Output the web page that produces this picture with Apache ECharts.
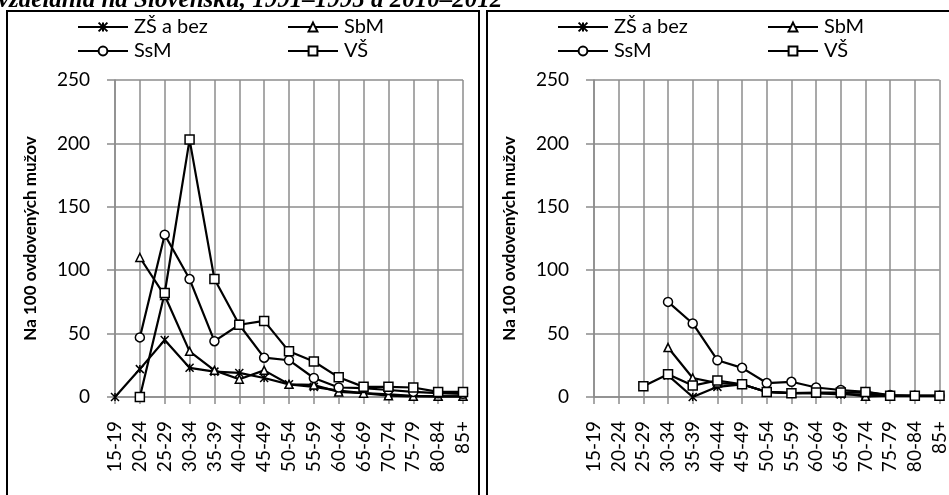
<!DOCTYPE html>
<html>
<head>
<meta charset="utf-8">
<script src="https://cdn.jsdelivr.net/npm/echarts@6/dist/echarts.min.js"></script>
<style>html,body{margin:0;padding:0;background:#fff}#c{width:949px;height:495px}</style>
</head>
<body>
<div id="c"></div>
<script>
const categories = ['15-19','20-24','25-29','30-34','35-39','40-44','45-49','50-54','55-59','60-64','65-69','70-74','75-79','80-84','85+'];
const seriesNames = ['ZŠ a bez','SbM','SsM','VŠ'];
const yTicks = [0, 50, 100, 150, 200, 250];
// 1991–1995
const zs1  = [0, 22, 45, 23, 20, 19, 15, 10, 8, 5, 3, 2, 1, 0.5, 0.5];
const sbm1 = [null, 110, 80, 36, 21, 14, 21, 10, 9.5, 4, 3, 1, 0.5, 0.5, 0.5];
const ssm1 = [null, 47, 128, 93, 44, 57, 31, 29, 15, 7.5, 7, 5.5, 4, 3, 2.5];
const vs1  = [null, 0, 82, 203, 93, 57, 60, 36, 28, 15.5, 8, 8, 7.5, 4, 4];
// 2010–2012
const zs2  = [null, null, null, 17, 0, 8, 10, 4, 3, 3, 2, 2, 1, 1, 1];
const sbm2 = [null, null, null, 39, 15, 11, 10, 4, 3, 3, 3, 0.5, 1, 1, 1];
const ssm2 = [null, null, null, 75, 58, 29, 23, 11, 12, 7.5, 5.5, 4, 1.5, 1, 1];
const vs2  = [null, null, 8.5, 18, 9, 13, 10, 4, 3, 3.5, 3.5, 4, 1, 1, 1];
const titleText = 'vzdelania na Slovensku, 1991–1995 a 2010–2012';
const yName = 'Na 100 ovdovených mužov';

const FONT = 'Lato';
const GRID = '#8c8c8c';
const symbols = {
  'ZŠ a bez': 'path://M0 0L10 10M10 0L0 10M5 0L5 10',
  'SbM': 'triangle',
  'SsM': 'circle',
  'VŠ': 'rect'
};
const sizes = {'ZŠ a bez': 8, 'SbM': 8, 'SsM': 9, 'VŠ': 9};

function mkSeries(name, data, idx) {
  return {
    type: 'line', name: name, data: data,
    xAxisIndex: idx, yAxisIndex: idx,
    symbol: symbols[name], symbolSize: sizes[name], showAllSymbol: true,
    lineStyle: {color: '#000', width: 2.2},
    itemStyle: {color: '#fff', borderColor: '#000', borderWidth: 1.5},
    emphasis: {disabled: true},
    animation: false
  };
}

function mkX(idx) {
  return {
    type: 'category', gridIndex: idx, data: categories, boundaryGap: false,
    axisLine: {lineStyle: {color: GRID, width: 1.5}},
    axisTick: {show: true, length: 7, lineStyle: {color: GRID, width: 1.5}},
    splitLine: {show: true, lineStyle: {color: GRID, width: 1.5}},
    axisLabel: {rotate: 90, fontSize: 19, color: '#000', fontFamily: FONT, margin: 24, interval: 0}
  };
}
function mkY(idx) {
  return {
    type: 'value', gridIndex: idx, min: 0, max: 250, interval: 50,
    name: yName, nameLocation: 'middle', nameRotate: 90, nameGap: 76,
    nameTextStyle: {fontSize: 17, fontWeight: 'bold', color: '#000', fontFamily: FONT},
    axisLine: {show: true, lineStyle: {color: GRID, width: 1.5}},
    axisTick: {show: true, length: 8, lineStyle: {color: GRID, width: 1.5}},
    splitLine: {show: true, lineStyle: {color: GRID, width: 1.5}},
    axisLabel: {fontSize: 19, color: '#000', fontFamily: FONT, margin: 25,
      formatter: v => yTicks.indexOf(v) >= 0 ? String(v) : ''}
  };
}
function mkLegend(name, left, top) {
  return {
    data: [name], left: left, top: top, itemWidth: 50, itemHeight: 11, itemGap: 0,
    padding: 0, selectedMode: false,
    textStyle: {fontSize: 20, color: '#000', fontFamily: FONT, padding: [0,0,0,1]}
  };
}

const chart = echarts.init(document.getElementById('c'), null, {renderer: 'canvas'});
chart.setOption({
  animation: false,
  backgroundColor: '#fff',
  grid: [
    {left: 115, right: 486, top: 80, bottom: 98},
    {left: 594, right: 6, top: 80, bottom: 98}
  ],
  xAxis: [mkX(0), mkX(1)],
  yAxis: [mkY(0), mkY(1)],
  legend: [
    mkLegend('ZŠ a bez', 77, 17), mkLegend('SbM', 287, 17),
    mkLegend('SsM', 77, 41), mkLegend('VŠ', 287, 41),
    mkLegend('ZŠ a bez', 557, 17), mkLegend('SbM', 767, 17),
    mkLegend('SsM', 557, 41), mkLegend('VŠ', 767, 41)
  ],
  graphic: [
    {type: 'rect', shape: {x: 7, y: 11, width: 472, height: 500}, style: {fill: 'none', stroke: '#000', lineWidth: 2}, z: 100},
    {type: 'rect', shape: {x: 487, y: 11, width: 470, height: 500}, style: {fill: 'none', stroke: '#000', lineWidth: 2}, z: 100},
    {type: 'text', left: -2, top: -12, style: {text: titleText, font: 'italic bold 25px "Liberation Serif"', fill: '#000'}, z: 100}
  ],
  series: [
    mkSeries('ZŠ a bez', zs1, 0), mkSeries('SbM', sbm1, 0), mkSeries('SsM', ssm1, 0), mkSeries('VŠ', vs1, 0),
    mkSeries('ZŠ a bez', zs2, 1), mkSeries('SbM', sbm2, 1), mkSeries('SsM', ssm2, 1), mkSeries('VŠ', vs2, 1)
  ]
});
</script>
</body>
</html>
